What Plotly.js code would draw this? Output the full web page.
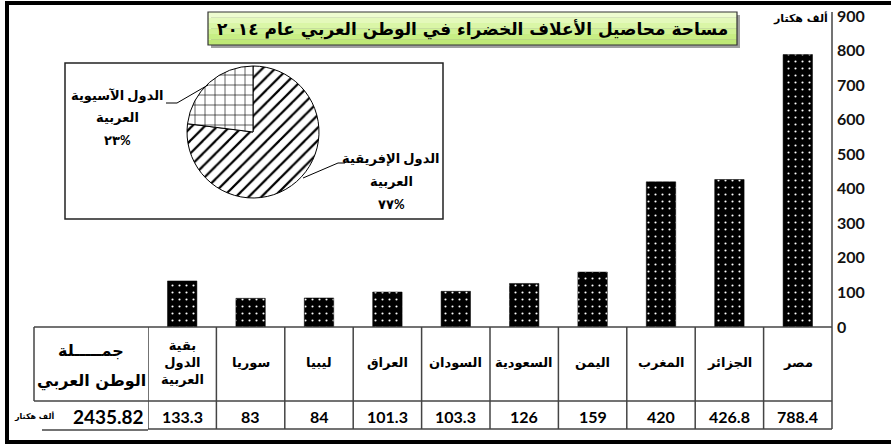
<!DOCTYPE html>
<html>
<head>
<meta charset="utf-8">
<script src="https://cdn.plot.ly/plotly-3.0.1.min.js"></script>
<style>
html,body{margin:0;padding:0;background:#fff;}
#chart{width:891px;height:444px;}
</style>
</head>
<body>
<div id="chart"></div>
<script>
// ---- data ----
const countries = ["بقية<br>الدول<br>العربية", "سوريا", "ليبيا", "العراق", "السودان", "السعودية", "اليمن", "المغرب", "الجزائر", "مصر"];
const areaValues = [133.3, 83, 84, 101.3, 103.3, 126, 159, 420, 426.8, 788.4];
const valueLabels = ["133.3", "83", "84", "101.3", "103.3", "126", "159", "420", "426.8", "788.4"];
const totalValue = "2435.82";
const yTicks = [0, 100, 200, 300, 400, 500, 600, 700, 800, 900];
const pieLabels = ["الدول الإفريقية العربية", "الدول الآسيوية العربية"];
const pieValues = [77, 23];
const pieTextAsia = ["الدول الآسيوية", "العربية", "٢٣%"];
const pieTextAfrica = ["الدول الإفريقية", "العربية", "٧٧%"];
const titleText = "مساحة محاصيل الأعلاف الخضراء في الوطن العربي عام ٢٠١٤";
const unitText = "ألف هكتار";
const totalHeader = ["جمـــــلة", "الوطن العربي"];

// ---- layout helpers (pixel -> paper) ----
const L = 148, R = 59, T = 16, B = 117;
const PW = 891 - L - R, PH = 444 - T - B;
const px = x => (x - L) / PW;
const py = y => (444 - B - y) / PH;
const FONT = 'Lato, "DejaVu Sans", sans-serif';
const AR = '"DejaVu Sans", sans-serif';

const bars = {
  type: 'bar',
  x: countries,
  y: areaValues,
  marker: {
    color: '#000',
    line: {color: '#000', width: 0.5},
    pattern: {shape: '.', bgcolor: '#000', fgcolor: '#fff', size: 7, solidity: 0.07}
  },
  hoverinfo: 'none',
  showlegend: false
};

const pie = {
  type: 'pie',
  labels: pieLabels,
  values: pieValues,
  sort: false,
  direction: 'clockwise',
  rotation: 0,
  textinfo: 'none',
  hoverinfo: 'none',
  showlegend: false,
  domain: {x: [px(187), px(319)], y: [py(198), py(66)]},
  marker: {
    colors: ['#fff', '#fff'],
    line: {color: '#000', width: 1},
    pattern: {shape: ['/', '+'], fgcolor: '#000', bgcolor: '#fff', size: [9, 10], solidity: [0.25, 0.12]}
  }
};

const shapes = [];
const annotations = [];

// outer frame
shapes.push({type: 'rect', xref: 'paper', yref: 'paper', x0: px(7), x1: px(897), y0: py(442), y1: py(3),
  line: {color: '#000', width: 4}});
// right border of plot and table
shapes.push({type: 'line', xref: 'paper', yref: 'paper', x0: 1, x1: 1, y0: py(429), y1: py(12),
  line: {color: '#444', width: 1.5}});

// title box: shadow + gradient bands
shapes.push({type: 'rect', xref: 'paper', yref: 'paper', x0: px(211), x1: px(740), y0: py(48), y1: py(15),
  fillcolor: '#a0a0a0', line: {width: 0}});
const bandCols = ['#eefcd0', '#e4f9bb', '#daf6a7', '#d0f295', '#c7ee84', '#bfe976'];
const bTop = 12, bBot = 45;
for (let i = 0; i < bandCols.length; i++) {
  const y0 = bTop + (bBot - bTop) * i / bandCols.length;
  const y1 = bTop + (bBot - bTop) * (i + 1) / bandCols.length;
  shapes.push({type: 'rect', xref: 'paper', yref: 'paper', x0: px(208), x1: px(737), y0: py(y1), y1: py(y0),
    fillcolor: bandCols[i], line: {width: 0}});
}
shapes.push({type: 'rect', xref: 'paper', yref: 'paper', x0: px(208), x1: px(737), y0: py(bBot), y1: py(bTop),
  line: {color: '#333', width: 1.2}});

// pie inset box
shapes.push({type: 'rect', xref: 'paper', yref: 'paper', x0: px(65), x1: px(443), y0: py(219), y1: py(63),
  line: {color: '#222', width: 1.5}, layer: 'below'});
// leader lines
shapes.push({type: 'path', xref: 'paper', yref: 'paper',
  path: `M ${px(166)} ${py(103)} L ${px(177)} ${py(103)} L ${px(208)} ${py(85)}`,
  line: {color: '#000', width: 1}});
shapes.push({type: 'path', xref: 'paper', yref: 'paper',
  path: `M ${px(303)} ${py(178)} L ${px(338)} ${py(163)} L ${px(345)} ${py(163)}`,
  line: {color: '#000', width: 1}});

// table lines
const gridC = '#444';
shapes.push({type: 'line', xref: 'paper', yref: 'paper', x0: px(34), x1: 1, y0: py(327), y1: py(327), line: {color: gridC, width: 1.5}});
shapes.push({type: 'line', xref: 'paper', yref: 'paper', x0: px(34), x1: 1, y0: py(401), y1: py(401), line: {color: gridC, width: 1.5}});
shapes.push({type: 'line', xref: 'paper', yref: 'paper', x0: px(148), x1: 1, y0: py(429), y1: py(429), line: {color: gridC, width: 1.5}});
shapes.push({type: 'line', xref: 'paper', yref: 'paper', x0: px(42), x1: px(148), y0: py(430), y1: py(430), line: {color: gridC, width: 1.5}});
shapes.push({type: 'line', xref: 'paper', yref: 'paper', x0: px(34), x1: px(34), y0: py(401), y1: py(327), line: {color: gridC, width: 1.5}});
for (let i = 0; i < countries.length; i++) {
  shapes.push({type: 'line', xref: 'x', yref: 'paper', x0: i - 0.5, x1: i - 0.5, y0: py(429), y1: py(327), line: {color: gridC, width: 1.5}});
}

// title
annotations.push({xref: 'paper', yref: 'paper', x: px(472), y: py(29), text: titleText, showarrow: false,
  font: {family: AR, size: 17, color: '#000', weight: 'bold'}, xanchor: 'center', yanchor: 'middle'});
// unit
annotations.push({xref: 'paper', yref: 'paper', x: px(830), y: py(18), text: unitText, showarrow: false,
  font: {family: AR, size: 11, color: '#000', weight: 'bold'}, xanchor: 'right', yanchor: 'middle'});

// pie labels
const asiaY = [95, 117, 140], afrY = [158, 181, 204];
pieTextAsia.forEach((t, i) => annotations.push({xref: 'paper', yref: 'paper', x: px(117), y: py(asiaY[i]), text: t, showarrow: false,
  font: {family: FONT, size: 13, color: '#000', weight: 'bold'}, xanchor: 'center', yanchor: 'middle'}));
pieTextAfrica.forEach((t, i) => annotations.push({xref: 'paper', yref: 'paper', x: px(391), y: py(afrY[i]), text: t, showarrow: false,
  font: {family: FONT, size: 13, color: '#000', weight: 'bold'}, xanchor: 'center', yanchor: 'middle'}));

// table: category names and values
countries.forEach((c, i) => {
  annotations.push({xref: 'x', yref: 'paper', x: c, y: py(362), text: c, showarrow: false,
    font: {family: AR, size: 13, color: '#000', weight: 'bold'}, xanchor: 'center', yanchor: 'middle'});
  annotations.push({xref: 'x', yref: 'paper', x: c, y: py(416), text: valueLabels[i], showarrow: false,
    font: {family: FONT, size: 16, color: '#000', weight: 'bold'}, xanchor: 'center', yanchor: 'middle'});
});
// total column
annotations.push({xref: 'paper', yref: 'paper', x: px(91), y: py(350), text: totalHeader[0], showarrow: false,
  font: {family: AR, size: 16, color: '#000', weight: 'bold'}, xanchor: 'center', yanchor: 'middle'});
annotations.push({xref: 'paper', yref: 'paper', x: px(91), y: py(381), text: totalHeader[1], showarrow: false,
  font: {family: AR, size: 16, color: '#000', weight: 'bold'}, xanchor: 'center', yanchor: 'middle'});
annotations.push({xref: 'paper', yref: 'paper', x: px(146), y: py(416), text: totalValue, showarrow: false,
  font: {family: FONT, size: 19, color: '#000', weight: 'bold'}, xanchor: 'right', yanchor: 'middle'});
annotations.push({xref: 'paper', yref: 'paper', x: px(12), y: py(416), text: unitText, showarrow: false,
  font: {family: AR, size: 8, color: '#000', weight: 'bold'}, xanchor: 'left', yanchor: 'middle'});

const layout = {
  width: 891, height: 444,
  margin: {l: L, r: R, t: T, b: B, pad: 0},
  paper_bgcolor: '#fff', plot_bgcolor: 'rgba(0,0,0,0)',
  bargap: 0.57,
  showlegend: false,
  xaxis: {type: 'category', range: [-0.5, countries.length - 0.5], showticklabels: false, showgrid: false,
    zeroline: false, showline: false, ticks: '', fixedrange: true},
  yaxis: {side: 'right', range: [0, 900], tickvals: yTicks, ticktext: yTicks.map(String), showgrid: false,
    zeroline: false, showline: false, ticks: '', ticklabelstandoff: 4,
    tickfont: {family: FONT, size: 16, color: '#111', weight: 'bold'}, fixedrange: true},
  shapes: shapes,
  annotations: annotations
};

Plotly.newPlot('chart', [bars, pie], layout, {displayModeBar: false, staticPlot: true});
</script>
</body>
</html>
